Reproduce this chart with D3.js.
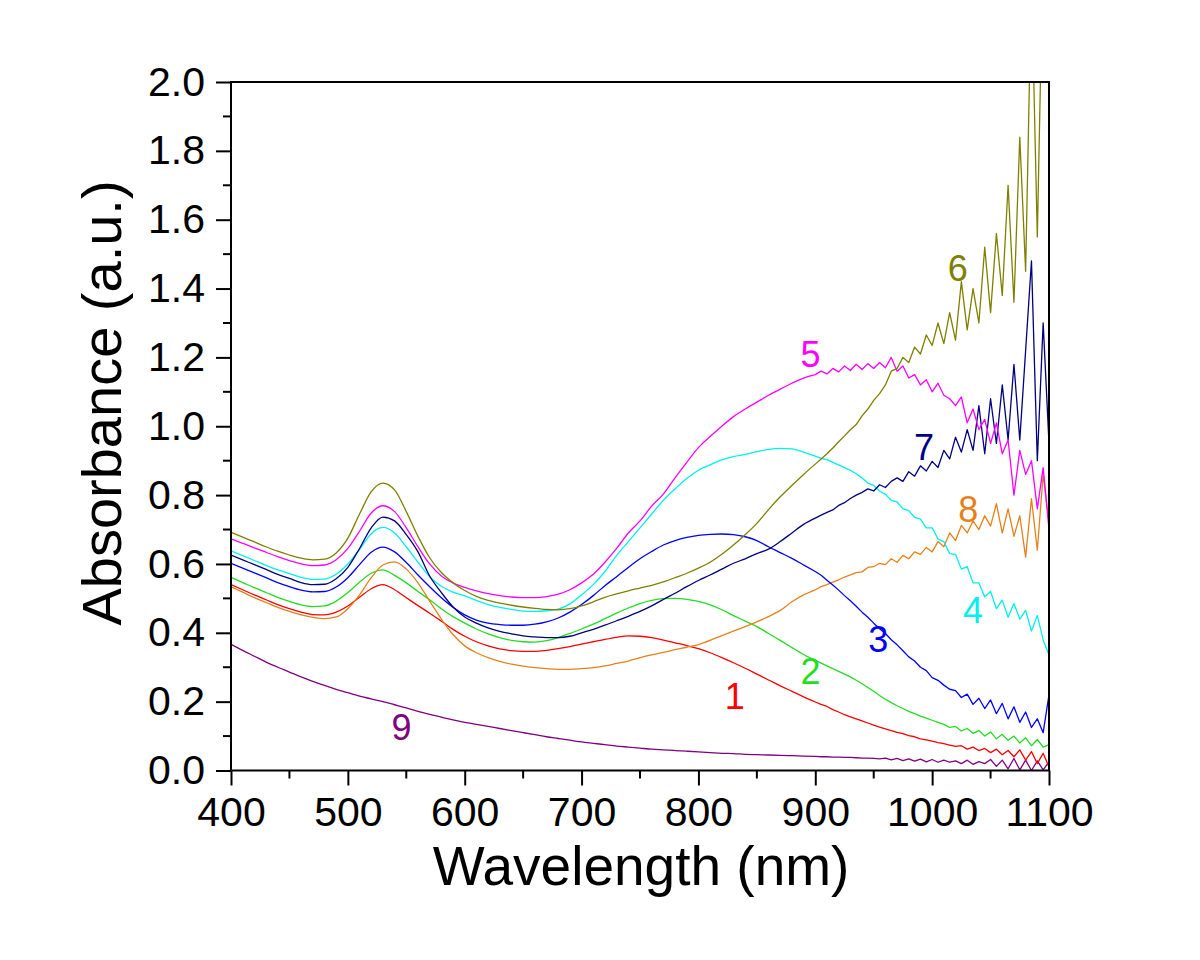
<!DOCTYPE html>
<html>
<head>
<meta charset="utf-8">
<script src="https://cdn.jsdelivr.net/npm/d3@7/dist/d3.min.js"></script>
<style>
  html, body { margin: 0; padding: 0; background: #fff; }
  svg { display: block; }
  text { font-family: "Liberation Sans", Arial, Helvetica, sans-serif; }
</style>
</head>
<body>
<svg id="chart" width="1200" height="960"></svg>
<script>
// ---------------- DATA ----------------
const wavelengths = [
  400,410,420,430,440,450,460,470,480,490,
  500,510,520,530,540,550,560,570,580,590,
  600,610,620,630,640,650,660,670,680,690,
  700,710,720,730,740,750,760,770,780,790,
  800,810,820,830,840,850,860,870,880,890,
  900,
  905,910,915,920,925,930,935,940,945,950,
  955,960,965,970,975,980,985,990,995,1000,
  1005,1010,1015,1020,1025,1030,1035,1040,1045,1050,
  1055,1060,1065,1070,1075,1080,1085,1090,1095,1100
];

const series1 = [
  .540,.525,.510,.496,.482,.470,.460,.453,.452,.460,
  .478,.503,.528,.540,.525,.502,.479,.457,.434,.410,
  .390,.374,.362,.353,.348,.346,.346,.349,.354,.360,
  .367,.374,.381,.387,.391,.390,.386,.379,.371,.363,
  .354,.342,.328,.313,.297,.280,.263,.246,.230,.214,
  .199,
  .192,.186,.177,.170,.162,.156,.150,.144,.138,.132,
  .126,.121,.116,.111,.107,.101,.098,.092,.089,.085,
  .081,.078,.074,.070,.072,.062,.068,.058,.064,.052,
  .062,.046,.058,.040,.060,.030,.055,.020,.050,.010
];
const series2 = [
  .561,.546,.531,.517,.503,.491,.481,.476,.478,.492,
  .517,.547,.573,.583,.567,.545,.520,.496,.470,.447,
  .428,.411,.397,.386,.378,.374,.373,.377,.386,.398,
  .411,.425,.441,.457,.472,.485,.494,.499,.500,.497,
  .491,.481,.467,.450,.434,.418,.398,.378,.357,.337,
  .320,
  .312,.304,.296,.288,.280,.272,.262,.252,.241,.230,
  .218,.207,.197,.188,.180,.172,.165,.158,.152,.146,
  .140,.134,.125,.128,.115,.122,.108,.116,.100,.112,
  .092,.105,.088,.100,.080,.095,.072,.090,.068,.075
];
const series3 = [
  .602,.588,.574,.560,.546,.534,.524,.519,.520,.533,
  .560,.598,.634,.649,.635,.604,.568,.534,.502,.474,
  .452,.437,.428,.424,.422,.422,.425,.432,.443,.460,
  .482,.508,.537,.563,.590,.615,.636,.655,.668,.677,
  .683,.686,.687,.685,.679,.668,.650,.633,.616,.597,
  .578,
  .567,.553,.539,.524,.508,.493,.477,.460,.445,.428,
  .412,.398,.380,.365,.348,.330,.318,.300,.290,.270,
  .262,.248,.236,.232,.212,.222,.192,.210,.180,.205,
  .165,.195,.150,.185,.140,.170,.125,.150,.110,.220
];
const series4 = [
  .638,.624,.610,.596,.583,.572,.561,.555,.556,.570,
  .600,.642,.688,.706,.690,.650,.605,.563,.535,.518,
  .507,.494,.482,.474,.468,.463,.462,.464,.469,.484,
  .510,.540,.578,.625,.665,.705,.745,.785,.818,.848,
  .872,.888,.902,.912,.918,.926,.933,.936,.934,.925,
  .913,
  .907,.903,.895,.888,.880,.872,.862,.850,.835,.828,
  .812,.802,.785,.780,.760,.755,.735,.730,.705,.705,
  .672,.665,.630,.628,.585,.592,.545,.545,.505,.520,
  .470,.495,.445,.485,.440,.465,.405,.450,.380,.335
];
const series5 = [
  .673,.660,.647,.634,.621,.610,.600,.595,.597,.612,
  .645,.695,.748,.769,.752,.705,.650,.600,.565,.545,
  .532,.522,.514,.508,.504,.502,.502,.505,.512,.525,
  .545,.570,.605,.645,.690,.725,.768,.803,.850,.895,
  .938,.970,1.000,1.028,1.050,1.070,1.090,1.108,1.125,1.140,
  1.150,
  1.160,1.152,1.168,1.158,1.175,1.162,1.180,1.165,1.182,1.168,
  1.185,1.170,1.200,1.160,1.175,1.140,1.150,1.120,1.135,1.100,
  1.125,1.090,1.080,1.060,1.085,1.010,1.050,.990,1.020,.950,
  1.010,.920,.960,.800,.930,.860,.900,.760,.880,.700
];
const series6 = [
  .692,.678,.664,.650,.637,.626,.617,.612,.614,.632,
  .675,.745,.810,.835,.815,.752,.680,.618,.575,.545,
  .523,.506,.494,.486,.480,.475,.471,.468,.467,.470,
  .478,.490,.503,.513,.522,.530,.538,.548,.560,.573,
  .588,.605,.628,.655,.685,.718,.758,.795,.828,.860,
  .890,
  .905,.920,.937,.955,.972,.990,1.005,1.030,1.050,1.075,
  1.095,1.120,1.160,1.168,1.200,1.185,1.230,1.210,1.265,1.235,
  1.300,1.240,1.330,1.250,1.420,1.280,1.400,1.300,1.520,1.330,
  1.560,1.380,1.700,1.360,1.840,1.450,2.300,1.550,2.400,2.300
];
const series7 = [
  .626,.612,.598,.584,.570,.558,.546,.540,.541,.557,
  .590,.645,.705,.736,.725,.685,.635,.565,.517,.475,
  .446,.428,.414,.404,.397,.391,.388,.386,.386,.390,
  .400,.410,.422,.435,.448,.462,.478,.497,.515,.534,
  .552,.568,.585,.602,.615,.630,.643,.665,.690,.715,
  .733,
  .742,.750,.757,.770,.778,.790,.800,.808,.818,.812,
  .830,.822,.840,.850,.840,.868,.855,.885,.870,.898,
  .880,.930,.905,.968,.925,.990,.930,1.060,.920,1.080,
  .950,1.120,.960,1.180,.960,1.220,1.480,.900,1.300,.950
];
const series8 = [
  .534,.518,.502,.488,.474,.462,.452,.445,.441,.446,
  .470,.510,.560,.597,.606,.585,.545,.492,.440,.395,
  .362,.342,.328,.317,.309,.303,.299,.296,.294,.294,
  .296,.299,.304,.311,.318,.328,.336,.343,.351,.358,
  .366,.378,.392,.405,.418,.432,.447,.465,.490,.510,
  .525,
  .534,.540,.547,.554,.562,.568,.575,.577,.590,.592,
  .602,.598,.615,.605,.625,.615,.635,.628,.648,.635,
  .665,.650,.690,.668,.712,.690,.725,.700,.740,.710,
  .775,.690,.760,.680,.740,.620,.790,.640,.860,.720
];
const series9 = [
  .367,.349,.332,.315,.300,.286,.272,.259,.247,.236,
  .226,.216,.208,.200,.191,.182,.172,.163,.155,.147,
  .140,.134,.128,.122,.116,.110,.104,.098,.093,.088,
  .083,.079,.075,.071,.068,.065,.062,.060,.058,.056,
  .054,.052,.050,.049,.047,.046,.045,.044,.043,.042,
  .041,
  .040,.040,.039,.039,.038,.038,.037,.036,.036,.035,
  .034,.036,.031,.035,.029,.034,.027,.033,.025,.032,
  .024,.030,.024,.028,.020,.030,.018,.026,.020,.032,
  .012,.030,.005,.035,.002,.030,.000,.028,.002,.025
];

const seriesNames = ["1","2","3","4","5","6","7","8","9"];
const seriesColors = ["#FF0000","#22DD22","#0000FF","#00F0F0","#FF00FF","#808000","#000080","#E8801A","#800080"];
// label anchor positions (wavelength, absorbance)
const labelWl  = [831, 896, 954, 1035, 896, 1022, 993, 1031, 546];
const labelAbs = [0.217, 0.290, 0.382, 0.467, 1.209, 1.461, 0.939, 0.759, 0.125];

const xTicks = [400,500,600,700,800,900,1000,1100];
const xMinor = [450,550,650,750,850,950,1050];
const yTicks = [0,0.2,0.4,0.6,0.8,1.0,1.2,1.4,1.6,1.8,2.0];
const yMinor = [0.1,0.3,0.5,0.7,0.9,1.1,1.3,1.5,1.7,1.9];

const xTitle = "Wavelength (nm)";
const yTitle = "Absorbance (a.u.)";

// ---------------- LAYOUT ----------------
const L = 231, R = 1049, T = 82, B = 770.5;
const smoothLimit = 900; // smooth interpolation below, straight segments (noisy) above
const svg = d3.select("#chart");

const x = d3.scaleLinear().domain([400, 1100]).range([L, R]);
const y = d3.scaleLinear().domain([0, 2.0]).range([B, T]);

svg.append("defs").append("clipPath").attr("id", "plotClip")
  .append("rect").attr("x", L).attr("y", T).attr("width", R - L).attr("height", B - T);

// curves
const allSeries = [series1, series2, series3, series4, series5, series6, series7, series8, series9];
const smoothLine = d3.line().curve(d3.curveMonotoneX).x(d => x(d[0])).y(d => y(d[1]));
const rawLine = d3.line().x(d => x(d[0])).y(d => y(d[1]));
const plotG = svg.append("g").attr("clip-path", "url(#plotClip)");
const order = [8, 0, 1, 7, 2, 3, 6, 4, 5];
order.forEach(i => {
  const pts = wavelengths.map((w, k) => [w, allSeries[i][k]]);
  const a = pts.filter(p => p[0] <= smoothLimit);
  const b = pts.filter(p => p[0] >= smoothLimit);
  const d = smoothLine(a) + rawLine(b).replace(/^M/, "L");
  plotG.append("path")
    .attr("d", d)
    .attr("fill", "none")
    .attr("stroke", seriesColors[i])
    .attr("stroke-width", 1.3)
    .attr("stroke-linejoin", "round");
});

// axes
const fontTick = 41;
const xAxis = d3.axisBottom(x).tickValues(xTicks).tickSize(15).tickSizeOuter(0).tickPadding(11)
  .tickFormat(d3.format("d"));
const yAxis = d3.axisLeft(y).tickValues(yTicks).tickSize(15).tickSizeOuter(0).tickPadding(11)
  .tickFormat(d3.format(".1f"));

const gx = svg.append("g").attr("transform", `translate(0,${B})`).call(xAxis);
const gy = svg.append("g").attr("transform", `translate(${L},0)`).call(yAxis);
[gx, gy].forEach(g => {
  g.select(".domain").remove();
  g.selectAll(".tick line").attr("stroke", "#000").attr("stroke-width", 2);
  g.selectAll(".tick text").attr("fill", "#000").style("font-size", fontTick + "px")
    .style("font-family", '"Liberation Sans", Arial, sans-serif');
});

// minor ticks
svg.append("g").selectAll("line").data(xMinor).join("line")
  .attr("x1", d => x(d)).attr("x2", d => x(d)).attr("y1", B).attr("y2", B + 8)
  .attr("stroke", "#000").attr("stroke-width", 2);
svg.append("g").selectAll("line").data(yMinor).join("line")
  .attr("x1", L).attr("x2", L - 8).attr("y1", d => y(d)).attr("y2", d => y(d))
  .attr("stroke", "#000").attr("stroke-width", 2);

// frame
svg.append("rect").attr("x", L).attr("y", T).attr("width", R - L).attr("height", B - T)
  .attr("fill", "none").attr("stroke", "#000").attr("stroke-width", 2);

// series labels
svg.append("g").selectAll("text").data(seriesNames).join("text")
  .attr("x", (d, i) => x(labelWl[i]))
  .attr("y", (d, i) => y(labelAbs[i]))
  .attr("dy", "0.36em")
  .attr("text-anchor", "middle")
  .attr("fill", (d, i) => seriesColors[i])
  .style("font-size", "36px")
  .text(d => d);

// axis titles
svg.append("text")
  .attr("x", 641).attr("y", 885)
  .attr("text-anchor", "middle")
  .style("font-size", "55px")
  .attr("fill", "#000")
  .text(xTitle);

svg.append("text")
  .attr("transform", "translate(121,403) rotate(-90)")
  .attr("text-anchor", "middle")
  .style("font-size", "56px")
  .attr("fill", "#000")
  .text(yTitle);
</script>
</body>
</html>
